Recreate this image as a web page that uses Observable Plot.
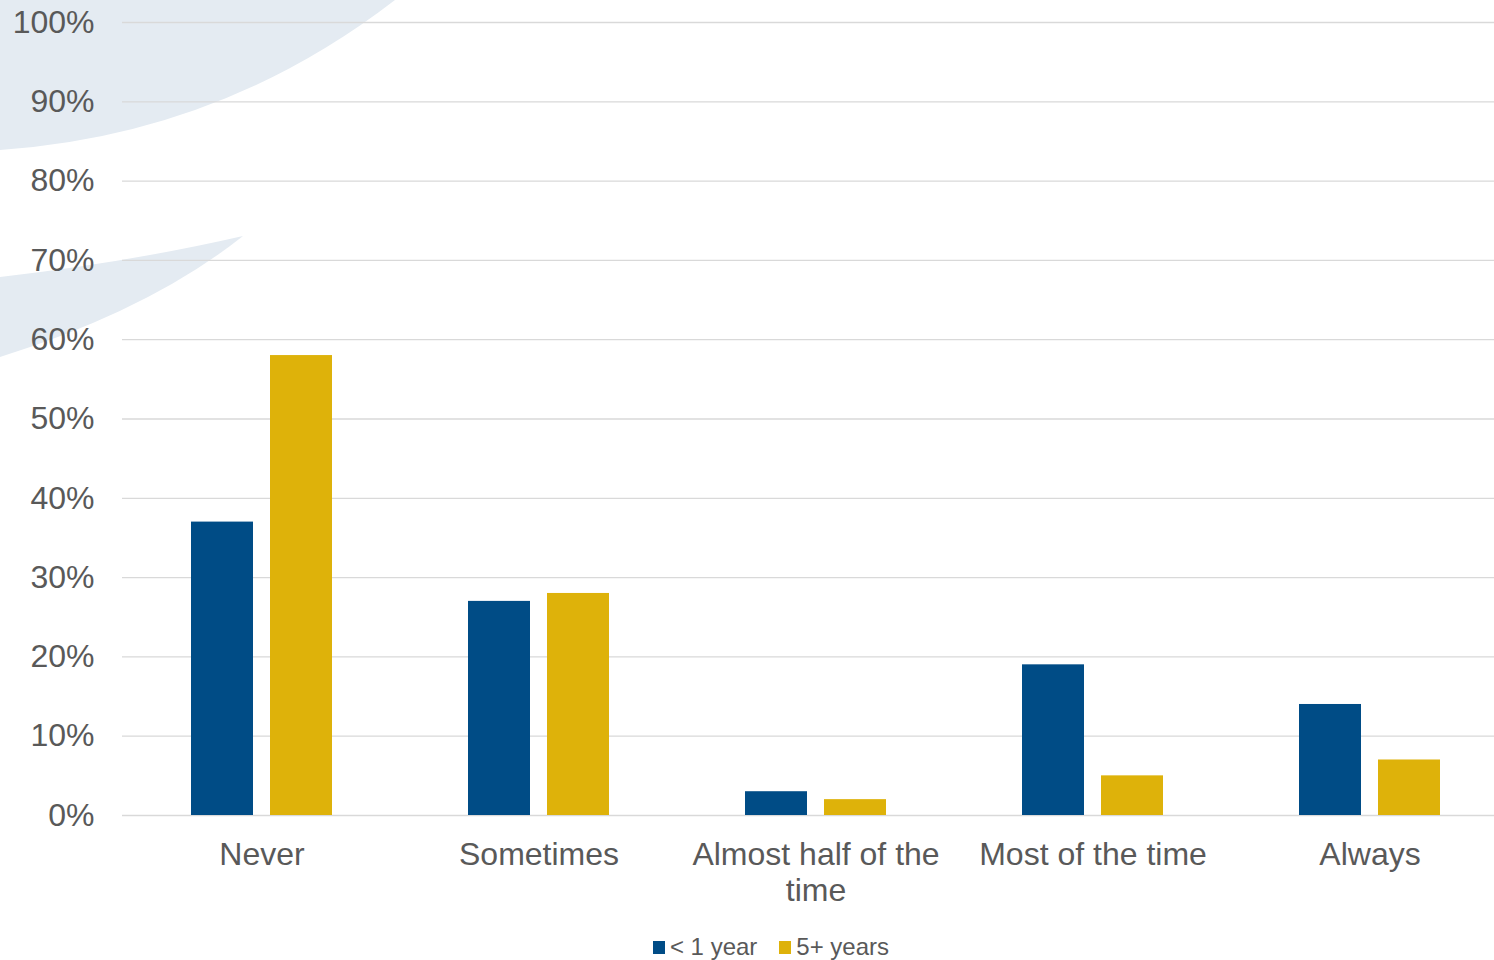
<!DOCTYPE html>
<html>
<head>
<meta charset="utf-8">
<script src="https://cdn.jsdelivr.net/npm/d3@7"></script>
<script src="https://cdn.jsdelivr.net/npm/@observablehq/plot@0.6"></script>
<style>
  html, body { margin: 0; padding: 0; background: #ffffff; }
  #chart { position: relative; width: 1494px; height: 960px; overflow: hidden; font-family: "Liberation Sans", Arial, sans-serif; }
  #legend { position: absolute; left: 0; width: 1494px; top: 933px; display: flex; justify-content: center; align-items: center; font-size: 24px; color: #595959; padding-left: 48px; box-sizing: border-box; }
  #legend .item { display: inline-flex; align-items: center; margin: 0 11px; }
  #legend .sw { display: inline-block; width: 12px; height: 13px; margin-right: 5px; }
</style>
</head>
<body>
<div id="chart"></div>
<script>
// Response categories along the x axis
const categories = ["Never", "Sometimes", "Almost half of the time", "Most of the time", "Always"];
// Axis text for each category (long label wrapped on two lines)
const categoryLabels = ["Never", "Sometimes", "Almost half of the\ntime", "Most of the time", "Always"];
// Series names and colours
const series = ["< 1 year", "5+ years"];
const seriesColors = ["#004c86", "#deb20a"];
// Share of respondents per category (fraction)
const lessThanOneYear = [0.37, 0.27, 0.03, 0.19, 0.14];
const fivePlusYears = [0.58, 0.28, 0.02, 0.05, 0.07];
// Y axis ticks
const yTicks = [0, 0.1, 0.2, 0.3, 0.4, 0.5, 0.6, 0.7, 0.8, 0.9, 1.0];

const rows = (values) => categories.map((c, i) => ({category: c, value: values[i]}));
const labelOf = new Map(categories.map((c, i) => [c, categoryLabels[i]]));

// Light decorative swooshes in the upper-left corner
const swoosh = () => {
  const g = d3.create("svg:g").attr("fill", "#e4ebf2");
  g.append("path").attr("d", "M0,0 L395,0 Q220,135 0,150 Z");
  g.append("path").attr("d", "M243,236 Q130,262 0,277 L0,357 Q150,310 243,236 Z");
  return g.node();
};

const groupWidth = 141;   // two bars plus the gap between them
const barWidth = 62;

const plot = Plot.plot({
  width: 1494,
  height: 920,
  marginLeft: 122,
  marginRight: 0,
  marginTop: 22,
  marginBottom: 105,
  style: {background: "transparent", fontFamily: "'Liberation Sans', Arial, sans-serif", fontSize: "32px", color: "#595959"},
  x: {domain: categories, range: [122, 1508], paddingInner: 1 - groupWidth / 277.2, paddingOuter: (1 - groupWidth / 277.2) / 2, align: 0.5},
  y: {domain: [0, 1]},
  marks: [
    swoosh,
    Plot.ruleY(yTicks, {stroke: "#d9d9d9", strokeWidth: 1.3}),
    Plot.barY(rows(lessThanOneYear), {x: "category", y: "value", fill: seriesColors[0], insetLeft: 0, insetRight: groupWidth - barWidth}),
    Plot.barY(rows(fivePlusYears), {x: "category", y: "value", fill: seriesColors[1], insetLeft: groupWidth - barWidth, insetRight: 0}),
    Plot.axisY(yTicks, {tickSize: 0, tickPadding: 28, tickFormat: d3.format(".0%"), fontSize: 32, fill: "#595959", label: null}),
    Plot.axisX({tickSize: 0, tickPadding: 23, tickFormat: (d) => labelOf.get(d), fontSize: 32, fill: "#595959", lineHeight: 1.15, label: null})
  ]
});

const chart = document.getElementById("chart");
chart.appendChild(plot);

// Legend below the chart
const legend = document.createElement("div");
legend.id = "legend";
series.forEach((name, i) => {
  const item = document.createElement("span");
  item.className = "item";
  const sw = document.createElement("span");
  sw.className = "sw";
  sw.style.background = seriesColors[i];
  item.appendChild(sw);
  item.appendChild(document.createTextNode(name));
  legend.appendChild(item);
});
chart.appendChild(legend);
</script>
</body>
</html>
